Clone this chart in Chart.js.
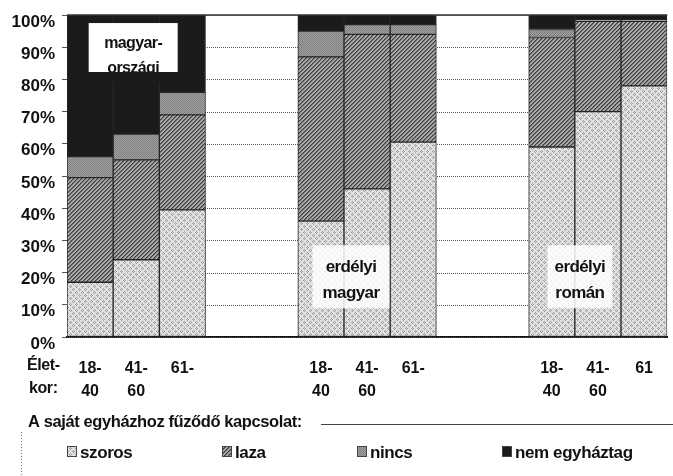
<!DOCTYPE html>
<html lang="hu">
<head>
<meta charset="UTF-8">
<title>A saját egyházhoz fűződő kapcsolat</title>
<script src="https://cdn.jsdelivr.net/npm/chart.js"></script>
<style>
  html, body { margin: 0; padding: 0; background: #fff; }
  #wrap { width: 673px; height: 476px; position: relative; }
</style>
</head>
<body>
<div id="wrap"><canvas id="churchChart" width="673" height="476"></canvas></div>
<script>
// categories: 3 age groups x 3 populations, with two empty columns between groups
const ageLabels = [['18-', '40'], ['41-', '60'], ['61-', ''], '', '',
                   ['18-', '40'], ['41-', '60'], ['61-', ''], '', '',
                   ['18-', '40'], ['41-', '60'], ['61', '']];
const groupNames = [['magyar-', 'országi'], ['erdélyi', 'magyar'], ['erdélyi', 'román']];
const seriesNames = ['szoros', 'laza', 'nincs', 'nem egyháztag'];

// percentages per segment (null = empty column)
const szoros = [17, 24, 39.5, null, null, 36, 46, 60.5, null, null, 59, 70, 78];
const laza   = [32.5, 31, 29.5, null, null, 51, 48, 33.5, null, null, 34, 28, 20];
const nincs  = [6.5, 8, 7, null, null, 8, 3, 3, null, null, 2.5, 0.5, 0.5];
const nemTag = [44, 37, 24, null, null, 5, 3, 3, null, null, 4.5, 1.5, 1.5];

const yTicks = [0, 10, 20, 30, 40, 50, 60, 70, 80, 90, 100];

// grey-scale fill patterns like the printed original
function makePattern(kind) {
    const c = document.createElement('canvas');
    const g = c.getContext('2d');
    if (kind === 'szoros') {
        c.width = 6; c.height = 6;
        g.fillStyle = '#e0e0e0'; g.fillRect(0, 0, 6, 6);
        g.fillStyle = '#999';
        [[1,0],[0,1],[2,1],[1,2],[4,3],[3,4],[5,4],[4,5]].forEach(p => g.fillRect(p[0], p[1], 1, 1));
    } else if (kind === 'laza') {
        c.width = 4; c.height = 4;
        g.fillStyle = '#a9a9a9'; g.fillRect(0, 0, 4, 4);
        g.fillStyle = '#3c3c3c';
        for (let i = 0; i < 4; i++) g.fillRect(3 - i, i, 1, 1);
        g.fillStyle = '#707070';
        for (let i = 0; i < 4; i++) g.fillRect((4 - i) % 4, i, 1, 1);
    } else if (kind === 'nincs') {
        c.width = 2; c.height = 2;
        g.fillStyle = '#a2a2a2'; g.fillRect(0, 0, 2, 2);
        g.fillStyle = '#7e7e7e'; g.fillRect(0, 0, 1, 1); g.fillRect(1, 1, 1, 1);
    } else {
        c.width = 1; c.height = 1;
        g.fillStyle = '#1b1b1b'; g.fillRect(0, 0, 1, 1);
    }
    return g.createPattern(c, 'repeat');
}

const fills = [makePattern('szoros'), makePattern('laza'), makePattern('nincs'), makePattern('nem')];
const seriesData = [szoros, laza, nincs, nemTag];

const FONT = '"Liberation Sans", Arial, sans-serif';

const extras = {
    id: 'extras',
    beforeDatasetsDraw(chart) {
        // dotted gridlines (only visible in the empty columns)
        const ctx = chart.ctx, y = chart.scales.y, a = chart.chartArea;
        ctx.save();
        ctx.strokeStyle = '#555';
        ctx.lineWidth = 1;
        ctx.setLineDash([1, 1]);
        yTicks.forEach(v => {
            const py = Math.round(y.getPixelForValue(v)) + 0.5;
            ctx.beginPath(); ctx.moveTo(a.left, py); ctx.lineTo(a.right, py); ctx.stroke();
        });
        ctx.restore();
    },
    afterDatasetsDraw(chart) {
        const ctx = chart.ctx;
        const x = chart.scales.x, y = chart.scales.y;
        const a = chart.chartArea;
        ctx.save();
        // top frame line
        ctx.strokeStyle = '#333';
        ctx.lineWidth = 1.5;
        ctx.beginPath(); ctx.moveTo(a.left, a.top); ctx.lineTo(a.right, a.top); ctx.stroke();

        // group name boxes
        ctx.textAlign = 'center';
        ctx.textBaseline = 'middle';
        ctx.letterSpacing = '-0.6px';
        const boxes = [
            {cx: (x.getPixelForValue(0) + x.getPixelForValue(1)) / 2 + 20, top: y.getPixelForValue(97.5), w: 89, h: 49, bg: '#fff'},
            {cx: (x.getPixelForValue(5) + x.getPixelForValue(6)) / 2 + 7, top: y.getPixelForValue(28.5), w: 77, h: 63, bg: 'rgba(255,255,255,0.85)'},
            {cx: (x.getPixelForValue(10) + x.getPixelForValue(11)) / 2 + 5, top: y.getPixelForValue(28.5), w: 65, h: 63, bg: 'rgba(255,255,255,0.85)'}
        ];
        boxes.forEach((b, i) => {
            ctx.fillStyle = b.bg;
            ctx.fillRect(b.cx - b.w / 2, b.top, b.w, b.h);
            ctx.fillStyle = '#111';
            ctx.font = 'bold ' + (i === 0 ? 16 : 17) + 'px ' + FONT;
            const gap = i === 0 ? 25 : 26;
            const first = b.top + (i === 0 ? 21 : 22);
            groupNames[i].forEach((t, j) => ctx.fillText(t, b.cx, first + j * gap));
        });
        // box 1 clips its second line
        const b0 = boxes[0];
        ctx.fillStyle = '#1b1b1b';
        ctx.fillRect(b0.cx - b0.w / 2, b0.top + b0.h, b0.w, 10);
        ctx.restore();
    },
    afterDraw(chart) {
        const ctx = chart.ctx;
        ctx.save();
        ctx.fillStyle = '#111';
        ctx.font = 'bold 16px ' + FONT;
        ctx.letterSpacing = '-0.4px';
        ctx.textBaseline = 'middle';
        ctx.textAlign = 'left';
        ctx.fillText('Élet-', 27, 366);
        ctx.fillText('kor:', 29, 389);

        // legend title with rule
        ctx.font = 'bold 16.5px ' + FONT;
        ctx.fillText('A saját egyházhoz fűződő kapcsolat:', 28, 422);
        ctx.strokeStyle = '#444';
        ctx.lineWidth = 1;
        ctx.beginPath(); ctx.moveTo(321, 424.5); ctx.lineTo(673, 424.5); ctx.stroke();
        ctx.setLineDash([1, 2]);
        ctx.strokeStyle = '#777';
        ctx.beginPath(); ctx.moveTo(21.5, 432); ctx.lineTo(21.5, 476); ctx.stroke();
        ctx.setLineDash([]);

        // legend entries
        ctx.font = 'bold 17px ' + FONT;
        const pos = [67, 222, 357, 502];
        seriesNames.forEach((n, i) => {
            ctx.fillStyle = fills[i];
            ctx.fillRect(pos[i], 446, 9, 10);
            ctx.strokeStyle = '#444';
            ctx.strokeRect(pos[i] + 0.5, 446.5, 9, 10);
            ctx.fillStyle = '#111';
            ctx.fillText(n, pos[i] + 13, 453);
        });
        ctx.restore();
    }
};

new Chart(document.getElementById('churchChart').getContext('2d'), {
    type: 'bar',
    data: {
        labels: ageLabels,
        datasets: seriesData.map((d, i) => ({
            label: seriesNames[i],
            data: d,
            backgroundColor: fills[i],
            borderColor: '#262626',
            borderWidth: 1,
            borderSkipped: false,
            categoryPercentage: 1,
            barPercentage: 1
        }))
    },
    options: {
        responsive: false,
        animation: false,
        devicePixelRatio: 1,
        layout: { padding: { top: 15, right: 0, bottom: 0, left: 0 } },
        plugins: { legend: { display: false }, tooltip: { enabled: false } },
        scales: {
            x: {
                stacked: true,
                grid: { display: false, drawTicks: false },
                border: { display: true, color: '#111', width: 2 },
                ticks: {
                    autoSkip: false, maxRotation: 0, color: '#111', padding: 20,
                    font: { family: FONT, size: 16, weight: 'bold', lineHeight: 1.45 }
                },
                afterFit: s => { s.height = 139; }
            },
            y: {
                stacked: true,
                min: 0, max: 100,
                afterBuildTicks: s => { s.ticks = yTicks.map(v => ({ value: v })); },
                grid: { display: true, color: 'rgba(0,0,0,0)', drawTicks: true, tickLength: 5, tickColor: '#555' },
                border: { display: false },
                ticks: {
                    color: '#111', padding: 7, labelOffset: 7,
                    font: { family: FONT, size: 17, weight: 'bold' },
                    callback: v => v + '%'
                },
                afterFit: s => { s.width = 67; s.paddingTop = 0; s.paddingBottom = 0; }
            }
        }
    },
    plugins: [extras]
});
</script>
</body>
</html>
